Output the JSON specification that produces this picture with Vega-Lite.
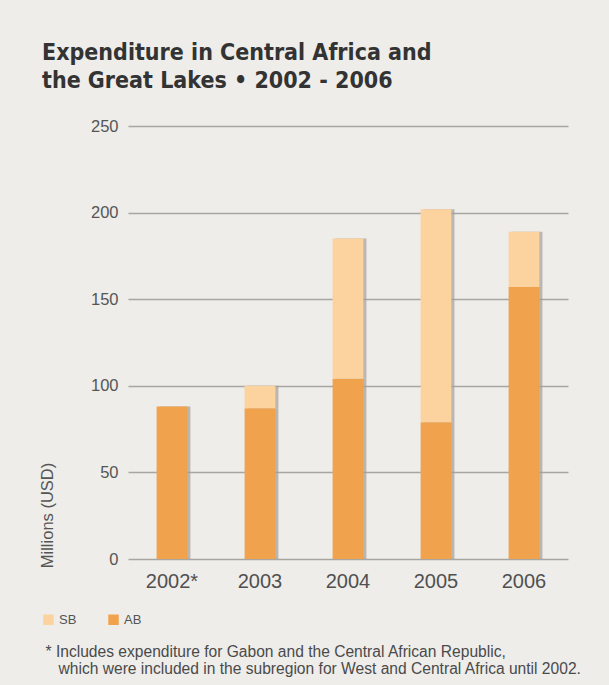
{
  "$schema": "https://vega.github.io/schema/vega-lite/v6.json",
  "width": 440,
  "height": 433,
  "autosize": {"type": "none"},
  "padding": {"left": 128, "top": 126, "right": 41, "bottom": 126},
  "background": "#eeedea",
  "config": {"view": {"stroke": null}},
  "title": {
    "text": ["Expenditure in Central Africa and", "the Great Lakes • 2002 - 2006"],
    "anchor": "start",
    "frame": "group",
    "baseline": "top",
    "dx": -86,
    "offset": 25,
    "font": "DejaVu Sans Condensed",
    "fontSize": 23,
    "fontWeight": "bold",
    "color": "#333333",
    "lineHeight": 28
  },
  "data": {
    "values": [
      {"year": "2002*", "type": "AB", "value": 88},
      {"year": "2002*", "type": "SB", "value": 0},
      {"year": "2003", "type": "AB", "value": 87},
      {"year": "2003", "type": "SB", "value": 13},
      {"year": "2004", "type": "AB", "value": 104},
      {"year": "2004", "type": "SB", "value": 81},
      {"year": "2005", "type": "AB", "value": 79},
      {"year": "2005", "type": "SB", "value": 123},
      {"year": "2006", "type": "AB", "value": 157},
      {"year": "2006", "type": "SB", "value": 32}
    ]
  },
  "encoding": {
    "x": {
      "field": "year",
      "type": "nominal",
      "sort": null,
      "scale": {"paddingInner": 0.65, "paddingOuter": 0.325},
      "axis": {
        "title": ["* Includes expenditure for Gabon and the Central African Republic,", "\u200b\u00a0\u00a0\u00a0which were included in the subregion for West and Central Africa until 2002."],
        "titleFont": "Liberation Sans",
        "titleFontSize": 15.6,
        "titleFontWeight": "normal",
        "titleColor": "#4a4a4a",
        "titleAnchor": "start",
        "titleAlign": "left",
        "titleBaseline": "alphabetic",
        "titleX": -83,
        "titleY": 97,
        "titleLineHeight": 17,
        "labelAngle": 0,
        "labelFont": "Liberation Sans",
        "labelFontSize": 20,
        "labelColor": "#505050",
        "labelPadding": 12,
        "ticks": false,
        "domain": false
      }
    },
    "y": {
      "field": "value",
      "type": "quantitative",
      "stack": "zero",
      "scale": {"domain": [0, 250], "nice": false},
      "axis": {
        "values": [0, 50, 100, 150, 200, 250],
        "title": "Millions (USD)",
        "titleFont": "Liberation Sans",
        "titleFontSize": 16.5,
        "titleFontWeight": "normal",
        "titleColor": "#555555",
        "titleAlign": "center",
        "titleX": -73,
        "titleY": 389,
        "labelFont": "Liberation Sans",
        "labelFontSize": 16.5,
        "labelColor": "#555555",
        "labelPadding": 10,
        "ticks": false,
        "domain": false,
        "gridColor": "#a8a6a2",
        "gridWidth": 1.5
      }
    },
    "order": {"field": "type", "sort": "ascending"}
  },
  "layer": [
    {
      "mark": {"type": "bar", "color": "#a49e97", "opacity": 0.7, "xOffset": 3}
    },
    {
      "mark": {"type": "bar"},
      "encoding": {
        "color": {
          "field": "type",
          "type": "nominal",
          "scale": {"domain": ["SB", "AB"], "range": ["#fcd29e", "#f0a24c"]},
          "legend": {
            "title": null,
            "orient": "none",
            "direction": "horizontal",
            "legendX": -86,
            "legendY": 487,
            "symbolType": "square",
            "symbolSize": 110,
            "symbolStrokeWidth": 0,
            "labelFont": "Liberation Sans",
            "labelFontSize": 13,
            "labelColor": "#555555",
            "columnPadding": 30
          }
        }
      }
    }
  ]
}
